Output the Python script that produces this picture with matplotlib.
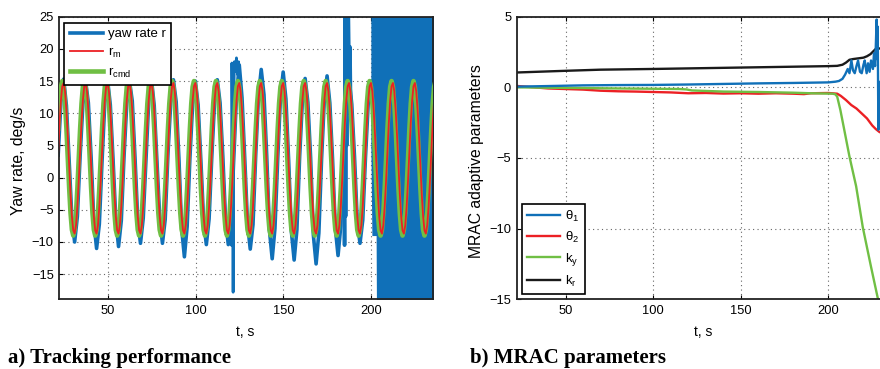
import numpy as np
import matplotlib
matplotlib.use('Agg')
import matplotlib.pyplot as plt

plt.rcParams['font.family'] = ['Liberation Sans', 'DejaVu Sans']
plt.rcParams['mathtext.fontset'] = 'custom'
plt.rcParams['mathtext.rm'] = 'Liberation Sans'
plt.rcParams['mathtext.it'] = 'Liberation Sans:italic'

BLUE = '#1070b8'
RED = '#ec2024'
GREEN = '#70bf44'
BLACK = '#1a1a1a'

# ---- a) tracking: sampled every T_STEP seconds from T_START ----
T_START = 21.45
T_STEP = 0.783          # 16 samples per command period (~12.53 s)
N_CYCLES = 18
# one period of the command and of the reference model
rcmd_cycle = [7.6, 11.5, 14.1, 15.0, 14.1, 11.5, 7.6, 3.0,
              -1.6, -5.5, -8.1, -9.0, -8.1, -5.5, -1.6, 3.0]
rm_cycle = [4.1, 8.5, 12.0, 14.2, 14.7, 13.4, 10.5, 6.5,
            1.9, -2.5, -6.0, -8.2, -8.7, -7.4, -4.5, -0.5]

# measured yaw rate, every 2*T_STEP seconds (8 per period)
yaw_rate = [
    3.5, 11.8, 15.3, 11.2, 2.6, -6.4, -10.0, -6.0,
    3.4, 11.4, 15.0, 11.6, 3.2, -6.9, -11.0, -7.2,
    2.7, 11.7, 15.2, 11.3, 2.8, -6.5, -10.7, -6.7,
    3.3, 11.5, 15.0, 11.9, 3.1, -6.6, -10.2, -6.3,
    2.8, 11.9, 15.3, 11.2, 2.5, -6.2, -10.2, -6.5,
    3.6, 11.6, 15.2, 11.8, 3.0, -7.9, -12.3, -7.6,
    3.0, 11.4, 15.0, 11.3, 2.7, -6.7, -10.4, -6.4,
    3.4, 11.8, 15.2, 11.6, 3.3, -6.5, -10.4, -6.9,
    3.1, 12.8, 17.5, 12.4, 2.9, -7.1, -11.1, -7.3,
    3.6, 12.6, 16.8, 12.9, 3.4, -8.2, -12.6, -7.9,
    2.9, 12.4, 16.4, 12.2, 2.6, -8.4, -12.8, -8.1,
    3.3, 11.9, 15.4, 11.7, 3.1, -8.9, -13.4, -8.6,
    3.0, 12.1, 15.8, 11.6, 2.8, -7.8, -12.1, -7.5,
    3.5, 11.7, 15.5, 11.4, 3.2, -6.8, -10.2, -6.6,
    3.2, 11.6, 15.0,
]
# bursts in the measured yaw rate
burst1_t = [119.2, 120.3, 120.6, 121.0, 121.3, 121.6, 122.0, 122.6,
            123.2, 123.8, 124.4, 125.0, 125.6]
burst1_v = [-9.5, -10.5, 17.8, 6.0, -17.8, 10.0, 18.0, 16.5,
            18.6, 16.0, 18.0, 15.5, 14.0]
burst2_t = [184.6, 184.9, 185.2, 185.5, 185.8, 186.1, 186.4, 186.7,
            187.0, 187.3, 187.7, 188.0, 188.4, 188.8]
burst2_v = [2.0, -10.5, 27.0, -6.0, 27.0, 5.0, 27.0, 10.0,
            27.0, 20.3, 12.0, 20.3, 10.0, 9.0]
# saturated oscillation after ~200 s (envelope)
sat_t = [199.9, 200.5, 202.9, 203.1, 236.0]
sat_lo = [5.0, -9.0, -9.0, -20.0, -20.0]
sat_hi = [26.0, 26.0, 26.0, 26.0, 26.0]

# ---- b) MRAC adaptive parameters ----
th1_t = [22, 40, 60, 80, 100, 120, 140, 160, 180, 200, 204, 206, 208,
         209.5, 211, 212, 213.1, 214, 215, 216, 216.9, 218, 219, 220,
         220.7, 221.8, 222.6, 223.5, 224.3, 225.4, 226.0, 226.6, 227.0,
         227.5, 227.8, 228.1, 228.5, 228.8, 229.1, 229.4]
th1_v = [0.05, 0.09, 0.14, 0.16, 0.17, 0.2, 0.24, 0.28, 0.31, 0.35, 0.4,
         0.45, 0.6, 0.9, 1.3, 1.0, 1.9, 1.2, 1.0, 1.5, 1.9, 1.1, 1.0, 1.6,
         1.9, 1.0, 1.7, 1.1, 1.9, 1.3, 2.4, 1.5, 2.8, 4.8, 2.0, 4.3, -3.0,
         0.4, -2.8, -1.0]
th2_t = [22, 30, 40, 50, 60, 70, 80, 90, 100, 110, 120, 130, 140, 150,
         160, 170, 180, 186, 190, 200, 205, 207, 210, 213, 216, 219, 222,
         225, 227, 229, 236]
th2_v = [0.1, 0.02, -0.08, -0.12, -0.16, -0.24, -0.28, -0.3, -0.33, -0.36,
         -0.42, -0.4, -0.44, -0.42, -0.45, -0.42, -0.45, -0.48, -0.42, -0.4,
         -0.45, -0.6, -0.9, -1.25, -1.5, -1.85, -2.2, -2.7, -2.95, -3.15,
         -3.6]
ky_t = [22, 40, 60, 80, 100, 115, 119, 122, 140, 160, 180, 190, 202.5,
        204, 205, 206.8, 208.7, 212, 215.8, 219.6, 224.3, 228.3, 232]
ky_v = [0.0, -0.03, -0.05, -0.08, -0.1, -0.12, -0.15, -0.22, -0.3, -0.33,
        -0.38, -0.42, -0.45, -0.5, -0.66, -1.6, -2.8, -4.9, -7.0, -9.9,
        -12.7, -15.0, -17.5]
kr_t = [22, 50, 70, 100, 150, 200, 205, 208, 210, 212, 214, 217, 220,
        222, 224, 226, 227, 229, 236]
kr_v = [1.05, 1.17, 1.25, 1.3, 1.4, 1.5, 1.52, 1.6, 1.75, 1.95, 2.0, 2.05,
        2.1, 2.2, 2.35, 2.6, 2.72, 2.75, 2.78]


def style_axes(ax):
    ax.grid(True, color='#666666', linestyle=(0, (1, 3)), linewidth=0.8)
    ax.tick_params(direction='in', top=True, right=True, length=3,
                   labelsize=9.3, pad=4)
    for sp in ax.spines.values():
        sp.set_linewidth(1.3)
        sp.set_color('#222222')


def make_legend(ax, handles, labels, loc, anchor):
    leg = ax.legend(handles, labels, loc=loc, bbox_to_anchor=anchor,
                    fontsize=9.5, handlelength=2.5, borderaxespad=0,
                    fancybox=False, framealpha=1, edgecolor='black',
                    labelspacing=0.45, borderpad=0.4, handletextpad=0.4)
    leg.get_frame().set_linewidth(1.2)
    return leg


fig = plt.figure(figsize=(8.8, 3.69), dpi=100)

# a) tracking performance
ax1 = fig.add_axes([0.0674, 0.1889, 0.4243, 0.7659])
t_cmd = T_START + T_STEP * np.arange(16 * N_CYCLES)
t_yaw = T_START + 2 * T_STEP * np.arange(len(yaw_rate))
ax1.fill_between(sat_t, sat_lo, sat_hi, color=BLUE, lw=0, zorder=2)
h_r, = ax1.plot(t_yaw, yaw_rate, color=BLUE, lw=2.6, zorder=2)
ax1.plot(burst1_t, burst1_v, color=BLUE, lw=2.0, zorder=2)
ax1.plot(burst2_t, burst2_v, color=BLUE, lw=2.6, zorder=2)
h_cmd, = ax1.plot(t_cmd, np.tile(rcmd_cycle, N_CYCLES), color=GREEN,
                  lw=3.3, zorder=3)
h_m, = ax1.plot(t_cmd, np.tile(rm_cycle, N_CYCLES), color=RED, lw=1.3,
                zorder=4)
ax1.set_xlim(22.1, 235.2)
ax1.set_ylim(-18.9, 25)
ax1.set_xticks([50, 100, 150, 200])
ax1.set_yticks(range(-15, 26, 5))
style_axes(ax1)
ax1.set_xlabel('t, s', fontsize=10)
ax1.xaxis.set_label_coords(0.497, -0.09)
ax1.set_ylabel('Yaw rate, deg/s', fontsize=11.3)
ax1.yaxis.set_label_coords(-0.09, 0.49)
make_legend(ax1, [h_r, h_m, h_cmd],
            ['yaw rate r', r'r$_{\mathregular{m}}$',
             r'r$_{\mathregular{cmd}}$'],
            'upper left', (0.0134, 0.979))

# b) MRAC parameters (axes runs past the right edge of the figure)
ax2 = fig.add_axes([0.5872, 0.1889, 0.4243, 0.7659])
h_kr, = ax2.plot(kr_t, kr_v, color=BLACK, lw=1.7)
h_th2, = ax2.plot(th2_t, th2_v, color=RED, lw=1.7)
h_ky, = ax2.plot(ky_t, ky_v, color=GREEN, lw=1.7)
h_th1, = ax2.plot(th1_t, th1_v, color=BLUE, lw=1.7)
ax2.set_xlim(22.1, 235.2)
ax2.set_ylim(-15, 5)
ax2.set_xticks([50, 100, 150, 200])
ax2.set_yticks([-15, -10, -5, 0, 5])
style_axes(ax2)
ax2.set_xlabel('t, s', fontsize=10)
ax2.xaxis.set_label_coords(0.5, -0.09)
ax2.set_ylabel('MRAC adaptive parameters', fontsize=11.3)
ax2.yaxis.set_label_coords(-0.088, 0.49)
make_legend(ax2, [h_th1, h_th2, h_ky, h_kr],
            [r'θ$_{\mathregular{1}}$', r'θ$_{\mathregular{2}}$',
             r'k$_{\mathregular{y}}$', r'k$_{\mathregular{r}}$'],
            'lower left', (0.0134, 0.0177))

cap = dict(fontsize=15, fontweight='bold', family='Liberation Serif',
           va='baseline', ha='left')
fig.text(8 / 880, 6 / 369, 'a) Tracking performance', **cap)
fig.text(470 / 880, 6 / 369, 'b) MRAC parameters', **cap)

fig.savefig('out.png', dpi=100)
plt.close(fig)
